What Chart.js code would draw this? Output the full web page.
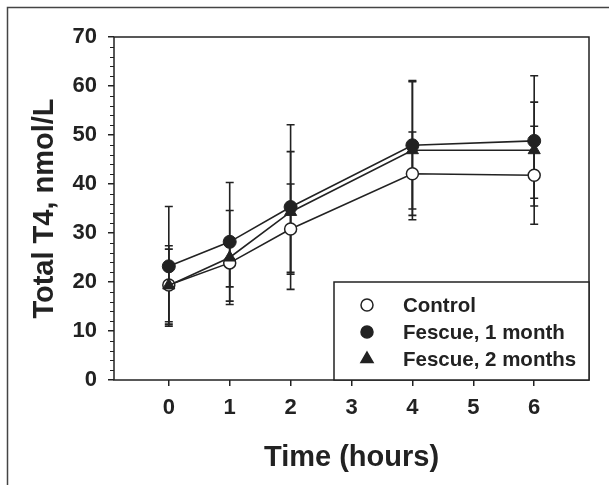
<!DOCTYPE html>
<html>
<head>
<meta charset="utf-8">
<script src="https://cdn.jsdelivr.net/npm/chart.js@4"></script>
<style>
  html, body { margin: 0; padding: 0; background: #fff; }
</style>
</head>
<body>
<canvas id="t4Chart" width="609" height="485"></canvas>
<script>
// data
const hours = [0, 1, 2, 4, 6];
const xTicks = [0, 1, 2, 3, 4, 5, 6];
const yTicks = [0, 10, 20, 30, 40, 50, 60, 70];
const seriesNames = ["Control", "Fescue, 1 month", "Fescue, 2 months"];

const controlMean = [19.4, 23.9, 30.8, 42.1, 41.8];
const controlErr = [8.0, 4.9, 9.2, 8.5, 10.0];
const fescue1Mean = [23.2, 28.2, 35.3, 47.9, 48.8];
const fescue1Err = [12.2, 12.1, 16.8, 13.0, 13.3];
const fescue2Mean = [19.3, 25.0, 34.3, 46.9, 46.9];
const fescue2Err = [7.4, 9.6, 12.3, 14.2, 9.8];

const ink = "#222";
const fontFamily = "'Liberation Sans', Arial, sans-serif";

function toPoints(means) {
  return hours.map((h, i) => ({ x: h, y: means[i] }));
}

// white page + outer frame
const framePlugin = {
  id: "frame",
  beforeDraw(chart) {
    const ctx = chart.ctx;
    ctx.save();
    ctx.fillStyle = "#fff";
    ctx.fillRect(0, 0, chart.width, chart.height);
    ctx.strokeStyle = "#444";
    ctx.lineWidth = 1.5;
    ctx.beginPath();
    ctx.moveTo(7.5, chart.height);
    ctx.lineTo(7.5, 7.5);
    ctx.lineTo(chart.width, 7.5);
    ctx.stroke();
    ctx.restore();
  },
};

// plot box, minor ticks on y, error bars
const errorBarPlugin = {
  id: "errorBars",
  beforeDatasetsDraw(chart) {
    const ctx = chart.ctx;
    const area = chart.chartArea;
    const xs = chart.scales.x;
    const ys = chart.scales.y;
    ctx.save();
    ctx.strokeStyle = ink;
    ctx.lineWidth = 1.5;
    ctx.strokeRect(area.left, area.top, area.right - area.left, area.bottom - area.top);

    // minor ticks every 2
    ctx.lineWidth = 1.2;
    ctx.beginPath();
    for (let v = 2; v < 70; v += 2) {
      if (v % 10 === 0) continue;
      const py = Math.round(ys.getPixelForValue(v)) + 0.5;
      ctx.moveTo(area.left, py);
      ctx.lineTo(area.left - 4, py);
    }
    ctx.stroke();

    const groups = [
      [controlMean, controlErr],
      [fescue1Mean, fescue1Err],
      [fescue2Mean, fescue2Err],
    ];
    ctx.lineWidth = 1.6;
    groups.forEach(([means, errs]) => {
      means.forEach((m, i) => {
        const px = xs.getPixelForValue(hours[i]);
        const top = ys.getPixelForValue(m + errs[i]);
        const bot = ys.getPixelForValue(m - errs[i]);
        ctx.beginPath();
        ctx.moveTo(px, top);
        ctx.lineTo(px, bot);
        ctx.moveTo(px - 4, top);
        ctx.lineTo(px + 4, top);
        ctx.moveTo(px - 4, bot);
        ctx.lineTo(px + 4, bot);
        ctx.stroke();
      });
    });
    ctx.restore();
  },
};

// legend box in the lower right corner
const legendBoxPlugin = {
  id: "legendBox",
  afterDatasetsDraw(chart) {
    const ctx = chart.ctx;
    const area = chart.chartArea;
    const boxLeft = 334;
    const boxTop = 282;
    ctx.save();
    ctx.fillStyle = "#fff";
    ctx.fillRect(boxLeft, boxTop, area.right - boxLeft, area.bottom - boxTop);
    ctx.strokeStyle = ink;
    ctx.lineWidth = 1.5;
    ctx.strokeRect(boxLeft, boxTop, area.right - boxLeft, area.bottom - boxTop);

    const rows = [305, 332, 359];
    const styles = [
      { pointStyle: "circle", radius: 6, fill: "#fff" },
      { pointStyle: "circle", radius: 6, fill: ink },
      { pointStyle: "triangle", radius: 7, fill: ink },
    ];
    ctx.font = "bold 20.5px " + fontFamily;
    ctx.textBaseline = "middle";
    seriesNames.forEach((name, i) => {
      ctx.fillStyle = styles[i].fill;
      ctx.strokeStyle = ink;
      ctx.lineWidth = 1.5;
      Chart.helpers.drawPoint(ctx, {
        pointStyle: styles[i].pointStyle,
        radius: styles[i].radius,
        rotation: 0,
        borderWidth: 1.5,
      }, 367, rows[i]);
      ctx.fillStyle = ink;
      ctx.fillText(name, 403, rows[i] + 1);
    });
    ctx.restore();
  },
};

const ctx = document.getElementById("t4Chart").getContext("2d");

new Chart(ctx, {
  type: "line",
  data: {
    datasets: [
      {
        label: seriesNames[0],
        data: toPoints(controlMean),
        borderColor: ink,
        borderWidth: 1.6,
        pointStyle: "circle",
        pointRadius: 6,
        pointBorderWidth: 1.5,
        pointBorderColor: ink,
        pointBackgroundColor: "#fff",
        order: 3,
      },
      {
        label: seriesNames[1],
        data: toPoints(fescue1Mean),
        borderColor: ink,
        borderWidth: 1.6,
        pointStyle: "circle",
        pointRadius: 6.5,
        pointBorderWidth: 1,
        pointBorderColor: ink,
        pointBackgroundColor: ink,
        order: 2,
      },
      {
        label: seriesNames[2],
        data: toPoints(fescue2Mean),
        borderColor: ink,
        borderWidth: 1.6,
        pointStyle: "triangle",
        pointRadius: 7,
        pointBorderWidth: 1,
        pointBorderColor: ink,
        pointBackgroundColor: ink,
        order: 1,
      },
    ],
  },
  options: {
    responsive: false,
    animation: false,
    devicePixelRatio: 1,
    layout: { padding: { top: 37, right: 20, left: 0, bottom: 0 } },
    plugins: {
      legend: { display: false },
      tooltip: { enabled: false },
    },
    scales: {
      x: {
        type: "linear",
        min: -0.9,
        max: 6.9,
        afterBuildTicks: (s) => { s.ticks = xTicks.map((v) => ({ value: v })); },
        afterFit: (s) => { s.height = 105; },
        border: { display: false },
        grid: { drawOnChartArea: false, drawTicks: true, tickLength: 6, color: ink, lineWidth: 1.5 },
        ticks: {
          font: { family: fontFamily, size: 22, weight: "bold" },
          color: ink,
          padding: 9,
          maxRotation: 0,
          autoSkip: false,
        },
        title: {
          display: true,
          text: "Time (hours)",
          color: ink,
          font: { family: fontFamily, size: 29, weight: "bold" },
          padding: { top: 0, bottom: 10 },
        },
      },
      y: {
        min: 0,
        max: 70,
        afterBuildTicks: (s) => { s.ticks = yTicks.map((v) => ({ value: v })); },
        afterFit: (s) => { s.width = 114; },
        border: { display: false },
        grid: { drawOnChartArea: false, drawTicks: true, tickLength: 6, color: ink, lineWidth: 1.5 },
        ticks: {
          font: { family: fontFamily, size: 22, weight: "bold" },
          color: ink,
          padding: 11,
          autoSkip: false,
        },
        title: {
          display: true,
          text: "Total T4, nmol/L",
          color: ink,
          font: { family: fontFamily, size: 29, weight: "bold" },
          padding: { top: 28, bottom: 0 },
        },
      },
    },
  },
  plugins: [framePlugin, errorBarPlugin, legendBoxPlugin],
});
</script>
</body>
</html>
